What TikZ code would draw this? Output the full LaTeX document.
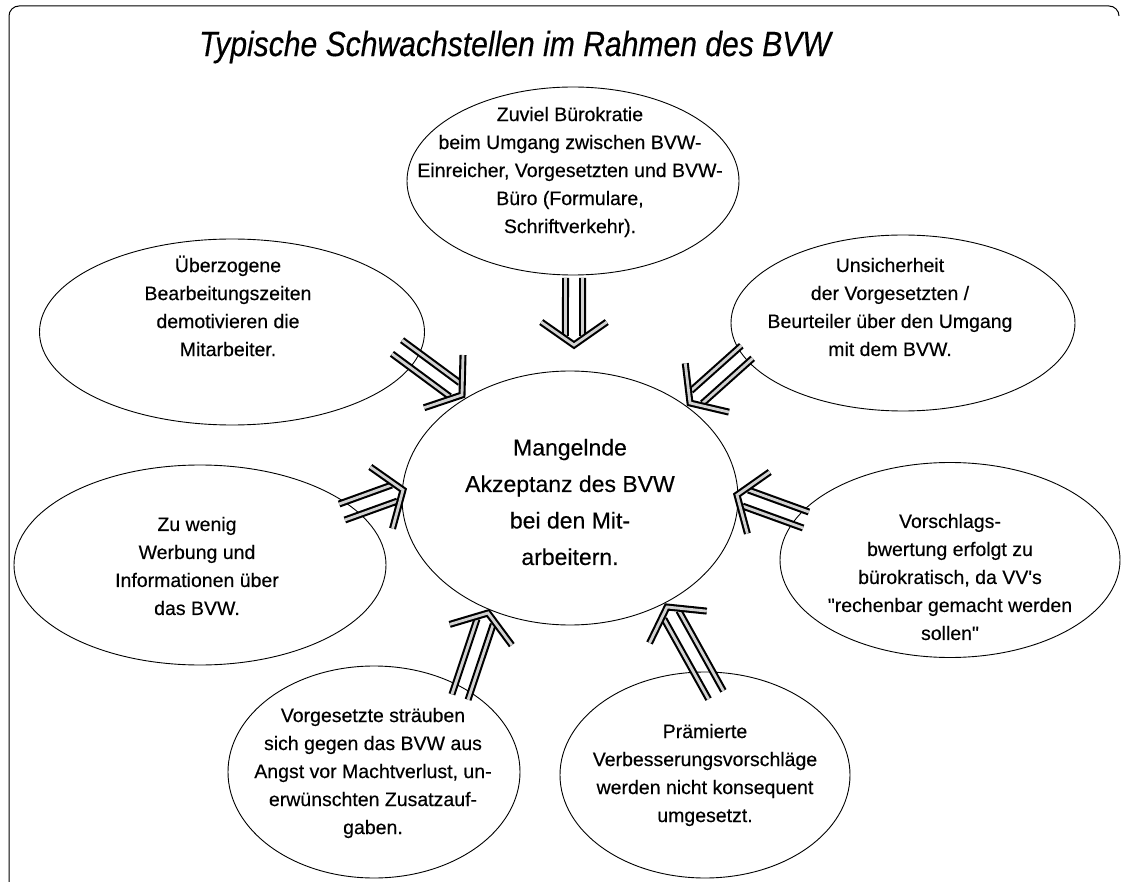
\documentclass[tikz,border=0pt]{standalone}
\usepackage{fontspec}
\setmainfont{Liberation Sans}
\newfontfamily\scanfont{Liberation Sans}[FakeBold=0.35]
\usetikzlibrary{shapes.geometric,calc}

\tikzset{
  bubble/.style 2 args={draw, ellipse, inner sep=0pt, outer sep=0pt,
    minimum width=#1, minimum height=#2, line width=0.9pt},
  txt/.style={align=center, inner sep=0pt, font=\scanfont\fontsize{19.5}{28}\selectfont},
  bigtxt/.style={align=center, inner sep=0pt, font=\scanfont\fontsize{23}{36.5}\selectfont},
  shaft/.style={line width=2.1pt, double=gray!35, double distance=2.8pt},
  arm/.style={line width=2.1pt, double=gray!35, double distance=2.8pt, line join=miter},
}
\newcommand\dblarrow[2]{%
  \draw[shaft] ($(#1)!8.5pt!90:(#2)$) -- ($(#2)!12.4pt!-43.4:(#1)$);
  \draw[shaft] ($(#1)!8.5pt!-90:(#2)$) -- ($(#2)!12.4pt!43.4:(#1)$);
  \draw[arm] ($(#2)!40pt!55:(#1)$) -- (#2) -- ($(#2)!40pt!-55:(#1)$);
}

\begin{document}
\begin{tikzpicture}[x=1pt,y=-1pt]
\useasboundingbox (0,0) rectangle (1122,882);
% frame
\draw[line width=1pt, rounded corners=10pt] (9,882) -- (9,6) -- (1119,6) -- (1119,16);

% title
\node[inner sep=0pt] (title) at (515,47) {\scalebox{0.86}[1]{\scanfont\fontsize{35}{40}\selectfont\itshape Typische Schwachstellen im Rahmen des BVW}};

% ellipses
\node[bubble={332pt}{188pt}] (top) at (573,181) {};
\node[bubble={385pt}{186pt}] (tl) at (232,332) {};
\node[bubble={344pt}{176pt}] (tr) at (903,323) {};
\node[bubble={336pt}{254pt}] (mid) at (570,498) {};
\node[bubble={372pt}{200pt}] (lft) at (200,565) {};
\node[bubble={340pt}{195pt}] (rgt) at (950,560) {};
\node[bubble={292pt}{212pt}] (bl) at (374,772) {};
\node[bubble={290pt}{206pt}] (br) at (705,775) {};

% texts
\node[txt] (toptext) at (570,172) {Zuviel Bürokratie\\beim Umgang zwischen BVW-\\Einreicher, Vorgesetzten und BVW-\\Büro (Formulare,\\Schriftverkehr).};
\node[txt] (tltext) at (228,306) {Überzogene\\Bearbeitungszeiten\\demotivieren die\\Mitarbeiter.};
\node[txt] (trtext) at (890,307) {Unsicherheit\\der Vorgesetzten /\\Beurteiler über den Umgang\\mit dem BVW.};
\node[bigtxt] (midtext) at (570,502) {Mangelnde\\Akzeptanz des BVW\\bei den Mit-\\arbeitern.};
\node[txt] (lfttext) at (197,566) {Zu wenig\\Werbung und\\Informationen über\\das BVW.};
\node[txt] (rgttext) at (950,577) {Vorschlags-\\bwertung erfolgt zu\\bürokratisch, da VV's\\\char34 rechenbar gemacht werden\\sollen\char34};
\node[txt] (bltext) at (373,773) {Vorgesetzte sträuben\\sich gegen das BVW aus\\Angst vor Machtverlust, un-\\erwünschten Zusatzauf-\\gaben.};
\node[txt] (brtext) at (705,775) {Prämierte\\Verbesserungsvorschläge\\werden nicht konsequent\\umgesetzt.};

% arrow ends
\coordinate (a1s) at (574,278); \coordinate (a1t) at (574,345);
\coordinate (a2s) at (397,347); \coordinate (a2t) at (462,395);
\coordinate (a3s) at (747,352); \coordinate (a3t) at (690,403);
\coordinate (a4s) at (806,520); \coordinate (a4t) at (737,495);
\coordinate (a5s) at (342,512); \coordinate (a5t) at (403,490);
\coordinate (a6s) at (460,697); \coordinate (a6t) at (488,613);
\coordinate (a7s) at (716,695); \coordinate (a7t) at (667,607);

\dblarrow{a1s}{a1t}
\dblarrow{a2s}{a2t}
\dblarrow{a3s}{a3t}
\dblarrow{a4s}{a4t}
\dblarrow{a5s}{a5t}
\dblarrow{a6s}{a6t}
\dblarrow{a7s}{a7t}
\end{tikzpicture}
\end{document}
